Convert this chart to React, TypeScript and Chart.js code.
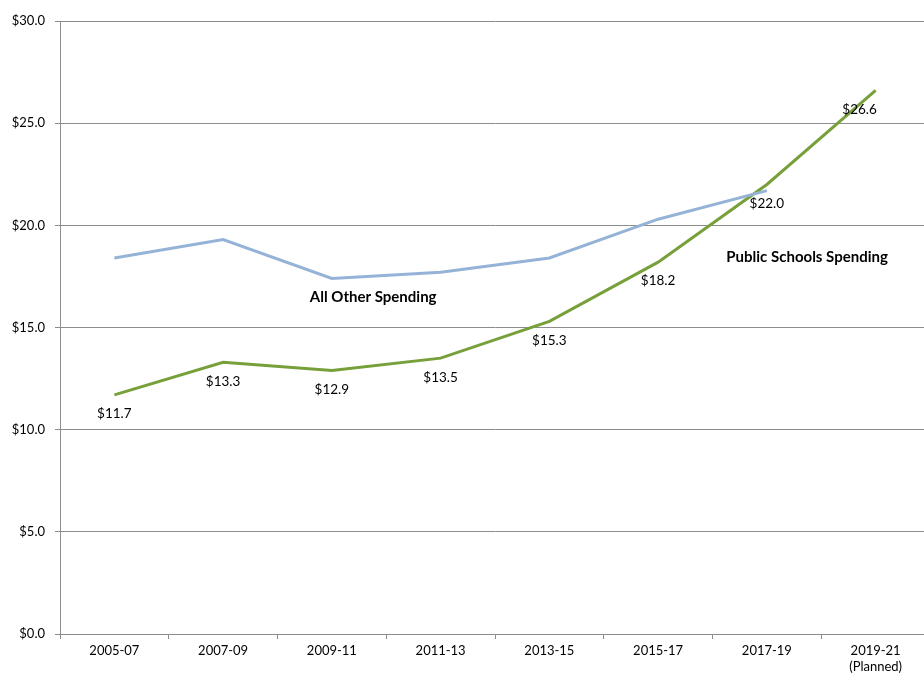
import React, { useEffect, useRef } from "react";
import { Chart, registerables } from "chart.js";

Chart.register(...registerables);

const categories = ["2005-07", "2007-09", "2009-11", "2011-13", "2013-15", "2015-17", "2017-19", ["2019-21", "(Planned)"]];
const allOtherSpending = [18.4, 19.3, 17.4, 17.7, 18.4, 20.3, 21.7, null];
const publicSchoolsSpending = [11.7, 13.3, 12.9, 13.5, 15.3, 18.2, 22.0, 26.6];
const annotations = [
  { text: "All Other Spending", x: 2.38, y: 16.5 },
  { text: "Public Schools Spending", x: 6.37, y: 18.45 },
];

const FONT = "Lato, 'Open Sans', sans-serif";

const labelPlugin = {
  id: "labels",
  afterDatasetsDraw(chart: any) {
    const ctx = chart.ctx;
    const meta = chart.getDatasetMeta(1);
    ctx.save();
    ctx.font = `13.5px ${FONT}`;
    ctx.fillStyle = "#000";
    ctx.textAlign = "center";
    ctx.textBaseline = "middle";
    meta.data.forEach((pt: any, i: number) => {
      const v = publicSchoolsSpending[i];
      const dx = i === publicSchoolsSpending.length - 1 ? -16 : 0;
      ctx.fillText(`$${v.toFixed(1)}`, pt.x + dx, pt.y + 19);
    });
    ctx.font = `bold 15px ${FONT}`;
    const xs = chart.scales.x;
    const ys = chart.scales.y;
    annotations.forEach((a) => {
      const px = xs.getPixelForValue(0) + a.x * (xs.getPixelForValue(1) - xs.getPixelForValue(0));
      ctx.fillText(a.text, px, ys.getPixelForValue(a.y));
    });
    ctx.restore();
  },
};

export default function App() {
  const ref = useRef<HTMLCanvasElement>(null);
  useEffect(() => {
    const chart = new Chart(ref.current!, {
      type: "line",
      data: {
        labels: categories as any,
        datasets: [
          {
            label: "All Other Spending",
            data: allOtherSpending,
            borderColor: "#95B3D7",
            borderWidth: 3,
            pointRadius: 0,
            tension: 0,
            spanGaps: false,
          },
          {
            label: "Public Schools Spending",
            data: publicSchoolsSpending,
            borderColor: "#77A03A",
            borderWidth: 3,
            pointRadius: 0,
            tension: 0,
          },
        ],
      },
      options: {
        animation: false,
        responsive: false,
        maintainAspectRatio: false,
        layout: { padding: { top: 21, right: 0, left: 0, bottom: 0 } },
        plugins: { legend: { display: false }, tooltip: { enabled: false } },
        scales: {
          x: {
            offset: true,
            grid: { offset: true, drawOnChartArea: false, color: "#8c8c8c", tickLength: 5 },
            border: { color: "#8c8c8c", width: 1 },
            ticks: { color: "#000", font: { family: FONT, size: 13 }, maxRotation: 0, padding: 4 },
            afterFit: (s: any) => { s.height = 47; },
          },
          y: {
            min: 0,
            max: 30,
            ticks: {
              stepSize: 5,
              color: "#000",
              font: { family: FONT, size: 13 },
              padding: 10,
              callback: (v: any) => `$${Number(v).toFixed(1)}`,
            },
            grid: { color: "#8c8c8c", tickLength: 5 },
            border: { color: "#8c8c8c", width: 1 },
            afterFit: (s: any) => { s.width = 60; },
          },
        },
      },
      plugins: [labelPlugin],
    });
    return () => chart.destroy();
  }, []);
  return (
    <div style={{ position: "fixed", left: 0, top: 0, width: 924, height: 681, overflow: "hidden", background: "#fff" }}>
      <canvas ref={ref} width={930} height={681} style={{ display: "block" }} />
    </div>
  );
}
